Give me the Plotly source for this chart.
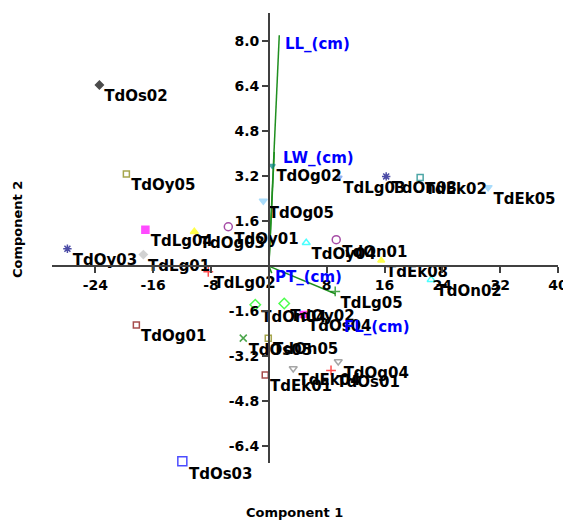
import plotly.graph_objects as go

# ---- data ----
names = ["TdOs02", "TdOy05", "TdOy03", "TdLg04", "TdOg03", "TdOy01", "TdLg01", "TdLg02",
         "TdOg01", "TdOs03", "TdOg02", "TdOg05", "TdLg03", "TdOn03", "TdEk02", "TdEk05",
         "TdOy04", "TdOn01", "TdEk08", "TdOn02", "TdLg05", "TdOn04", "TdOy02", "TdOs04",
         "TdOs05", "TdOn05", "TdEk01", "TdEk04", "TdOs01", "TdOg04"]
pc1 = [-23.44, -19.71, -27.87, -17.08, -10.31, -5.61, -17.36, -8.38,
       -18.33, -11.97, 0.47, -0.77, 9.73, 16.23, 20.93, 30.33,
       5.17, 9.32, 15.54, 22.45, 9.18, -1.88, 2.13, 4.75,
       -3.54, -0.08, -0.50, 3.37, 8.60, 9.60]
pc2 = [6.44, 3.28, 0.62, 1.29, 1.22, 1.40, 0.41, -0.20,
       -2.09, -6.94, 3.57, 2.32, 3.15, 3.19, 3.15, 2.80,
       0.83, 0.94, 0.20, -0.48, -0.90, -1.37, -1.33, -1.72,
       -2.56, -2.56, -3.87, -3.64, -3.71, -3.39]

variables = ["LL_(cm)", "LW_(cm)", "PT_(cm)", "FL_(cm)"]
load1 = [1.44, 0.75, 0.40, 9.18]
load2 = [8.21, 4.06, -0.25, -0.98]
var_label_x = [1.9, 1.7, 0.6, 10.15]
var_label_y = [7.9, 3.85, -0.37, -2.15]

x_ticks = [-24, -16, -8, 8, 16, 24, 32, 40]
y_ticks = [-6.4, -4.8, -3.2, -1.6, 1.6, 3.2, 4.8, 6.4, 8.0]
x_range = [-30, 40]
y_range = [-7, 9]

# ---- styles ----
style = {
    "TdOs02": ("diamond", "#000000", 6),
    "TdOy05": ("square-open", "#808000", 6),
    "TdOy03": ("asterisk-open", "#000080", 7),
    "TdLg04": ("square", "#FF00FF", 7),
    "TdOg03": ("triangle-up", "#FFFF00", 7),
    "TdOy01": ("circle-open", "#800080", 8),
    "TdLg01": ("diamond", "#C0C0C0", 6),
    "TdLg02": ("cross-thin-open", "#FF0000", 7),
    "TdOg01": ("square-open", "#800000", 6),
    "TdOs03": ("square-open", "#0000FF", 9),
    "TdOg02": ("triangle-down", "#008080", 5),
    "TdOg05": ("triangle-down", "#87CEFA", 7),
    "TdLg03": ("triangle-down", "#6495ED", 5),
    "TdOn03": ("asterisk-open", "#000080", 7),
    "TdEk02": ("square-open", "#008080", 6),
    "TdEk05": ("triangle-down", "#87CEFA", 7),
    "TdOy04": ("triangle-up-open", "#00FFFF", 7),
    "TdOn01": ("circle-open", "#800080", 8),
    "TdEk08": ("triangle-up", "#FFFF00", 6),
    "TdOn02": ("triangle-up-open", "#00FFFF", 7),
    "TdLg05": ("cross-thin-open", "#008000", 7),
    "TdOn04": ("diamond-open", "#00FF00", 8),
    "TdOy02": ("diamond-open", "#00FF00", 8),
    "TdOs04": ("square", "#FF00FF", 6),
    "TdOs05": ("x-thin-open", "#008000", 7),
    "TdOn05": ("square-open", "#808000", 6),
    "TdEk01": ("square-open", "#800000", 6),
    "TdEk04": ("triangle-down-open", "#808080", 7),
    "TdOs01": ("cross-thin-open", "#FF0000", 7),
    "TdOg04": ("triangle-down-open", "#808080", 7),
}

FONT = "DejaVu Sans"
fig = go.Figure()

# loading vectors
for v, a, b in zip(variables, load1, load2):
    fig.add_trace(go.Scatter(x=[0, a], y=[0, b], mode="lines",
                             line=dict(color="#1f8f1f", width=1.5),
                             hoverinfo="skip", showlegend=False))

fig.add_trace(go.Scatter(
    x=pc1, y=pc2, mode="markers+text", text=names, textposition="bottom right",
    textfont=dict(family=FONT, size=15, color="black", weight="bold"),
    marker=dict(symbol=[style[n][0] for n in names],
                color=[style[n][1] for n in names],
                size=[style[n][2] for n in names],
                line=dict(color=[style[n][1] for n in names], width=1.5)),
    cliponaxis=False, showlegend=False))

for v, lx, ly in zip(variables, var_label_x, var_label_y):
    fig.add_annotation(x=lx, y=ly, text=v, showarrow=False, xanchor="left", yanchor="middle",
                       font=dict(family=FONT, size=15, color="#0000FF", weight="bold"))

fig.add_annotation(xref="paper", yref="paper", x=0.48, y=-0.109, text="Component 1",
                   showarrow=False, xanchor="center", yanchor="middle",
                   font=dict(family=FONT, size=13, color="black", weight="bold"))
fig.add_annotation(xref="paper", yref="paper", x=-0.067, y=0.518, text="Component 2",
                   showarrow=False, textangle=-90, xanchor="center", yanchor="middle",
                   font=dict(family=FONT, size=13, color="black", weight="bold"))

axis_common = dict(showgrid=False, zeroline=False, showline=True, linecolor="#404040",
                   linewidth=1.5, ticks="outside", ticklen=6, tickcolor="#404040",
                   tickwidth=1.5, automargin=False,
                   tickfont=dict(family=FONT, size=14, color="black", weight="bold"))

fig.update_xaxes(range=x_range, tickvals=x_ticks, ticktext=[str(t) for t in x_ticks],
                 anchor="free", position=(0 - y_range[0]) / (y_range[1] - y_range[0]),
                 **axis_common)
fig.update_yaxes(range=y_range, tickvals=y_ticks, ticktext=[f"{t:.1f}" for t in y_ticks],
                 anchor="free", position=(0 - x_range[0]) / (x_range[1] - x_range[0]),
                 **axis_common)

# page body has an 8px margin, so the figure is sized/offset to fit the 571x522 window
fig.update_layout(width=563, height=514,
                  margin=dict(l=44, r=13, t=5, b=59, autoexpand=False),
                  plot_bgcolor="white", paper_bgcolor="white")

fig.write_html("out.html")
